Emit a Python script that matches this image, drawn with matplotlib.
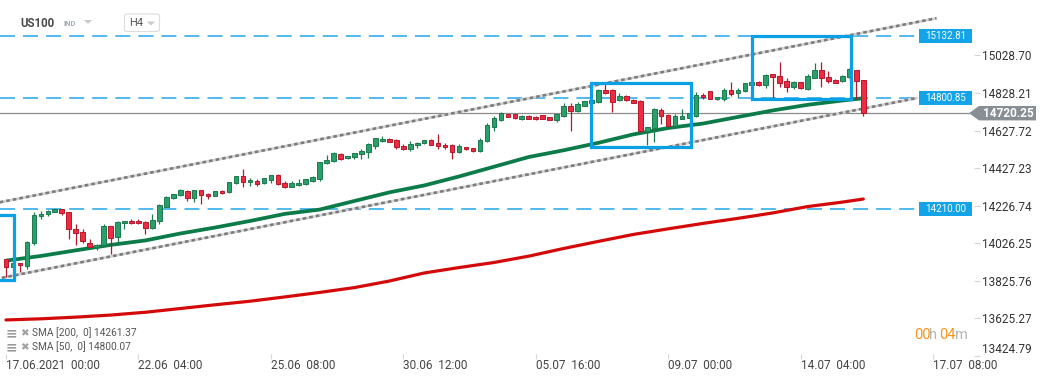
import matplotlib
matplotlib.use('Agg')
import matplotlib.pyplot as plt
from matplotlib.patches import Rectangle, Polygon, FancyBboxPatch
from matplotlib.transforms import blended_transform_factory
import numpy as np

plt.rcParams['font.family'] = ['Roboto', 'DejaVu Sans']
plt.rcParams['lines.scale_dashes'] = False

W, H = 1041, 380

# ---------------- data (US100, H4 candles) ----------------
opens = [13939, 13896, 13918, 13905, 14025, 14169, 14180, 14192, 14206, 14190,
         14099, 14083, 14028, 14007, 14016, 14115, 14057, 14131, 14144, 14144,
         14139, 14105, 14142, 14221, 14265, 14281, 14306, 14265, 14310, 14288,
         14278, 14303, 14297, 14345, 14383, 14351, 14356, 14345, 14365, 14388,
         14345, 14328, 14335, 14340, 14360, 14368, 14452, 14463, 14500, 14479,
         14488, 14500, 14515, 14547, 14570, 14581, 14577, 14545, 14531, 14548,
         14559, 14575, 14561, 14550, 14550, 14511, 14538, 14532, 14516, 14570,
         14648, 14684, 14714, 14714, 14691, 14705, 14700, 14709, 14698, 14684,
         14707, 14759, 14734, 14760, 14777, 14782, 14844, 14844, 14789, 14810,
         14793, 14784, 14623, 14639, 14737, 14711, 14652, 14691, 14694, 14707,
         14817, 14837, 14794, 14798, 14844, 14826, 14837, 14873, 14887, 14869,
         14930, 14919, 14892, 14862, 14885, 14850, 14910, 14951, 14914, 14898,
         14891, 14912, 14949, 14896]
highs = [13943, 13925, 13920, 14039, 14192, 14197, 14203, 14208, 14208, 14192,
         14128, 14099, 14046, 14019, 14126, 14118, 14144, 14146, 14153, 14153,
         14146, 14181, 14233, 14278, 14289, 14315, 14309, 14310, 14312, 14295,
         14304, 14308, 14354, 14386, 14422, 14376, 14367, 14374, 14392, 14395,
         14356, 14358, 14367, 14369, 14386, 14461, 14497, 14515, 14506, 14491,
         14509, 14527, 14563, 14588, 14598, 14586, 14581, 14554, 14570, 14568,
         14577, 14580, 14609, 14559, 14556, 14557, 14541, 14534, 14586, 14666,
         14704, 14726, 14717, 14717, 14708, 14710, 14703, 14712, 14700, 14718,
         14773, 14777, 14778, 14786, 14793, 14850, 14875, 14848, 14826, 14818,
         14795, 14791, 14648, 14746, 14750, 14716, 14714, 14741, 14722, 14832,
         14826, 14840, 14809, 14853, 14887, 14857, 14884, 14890, 14890, 14928,
         14931, 14992, 14907, 14892, 14888, 14930, 14990, 14992, 14946, 14905,
         14924, 14960, 14951, 14898]
lows = [13846, 13894, 13873, 13886, 14017, 14153, 14171, 14190, 14174, 14050,
        14014, 14025, 14003, 13989, 14010, 13966, 14028, 14099, 14130, 14128,
        14073, 14101, 14126, 14217, 14263, 14279, 14251, 14244, 14237, 14260,
        14276, 14290, 14295, 14340, 14328, 14333, 14331, 14343, 14349, 14335,
        14319, 14324, 14333, 14338, 14354, 14360, 14449, 14459, 14470, 14477,
        14474, 14474, 14479, 14531, 14566, 14566, 14531, 14525, 14520, 14532,
        14557, 14548, 14531, 14531, 14474, 14506, 14524, 14514, 14513, 14566,
        14627, 14681, 14699, 14690, 14682, 14689, 14685, 14689, 14683, 14675,
        14702, 14627, 14725, 14758, 14775, 14777, 14821, 14728, 14784, 14787,
        14774, 14620, 14550, 14568, 14664, 14652, 14648, 14687, 14692, 14702,
        14794, 14795, 14792, 14787, 14812, 14805, 14833, 14870, 14866, 14853,
        14803, 14862, 14835, 14848, 14851, 14844, 14907, 14862, 14880, 14880,
        14889, 14908, 14796, 14705]
closes = [13896, 13918, 13907, 14030, 14174, 14180, 14196, 14206, 14185, 14099,
          14078, 14039, 14007, 14014, 14115, 14055, 14139, 14144, 14131, 14131,
          14105, 14147, 14228, 14274, 14287, 14310, 14265, 14308, 14281, 14276,
          14303, 14292, 14351, 14383, 14350, 14363, 14344, 14372, 14388, 14340,
          14328, 14345, 14345, 14367, 14377, 14458, 14470, 14506, 14477, 14490,
          14506, 14518, 14556, 14586, 14581, 14568, 14538, 14531, 14554, 14563,
          14575, 14552, 14543, 14538, 14511, 14545, 14527, 14516, 14575, 14657,
          14693, 14723, 14702, 14693, 14705, 14691, 14687, 14691, 14686, 14716,
          14759, 14734, 14769, 14784, 14791, 14844, 14830, 14782, 14810, 14789,
          14777, 14623, 14645, 14741, 14707, 14654, 14705, 14705, 14719, 14817,
          14805, 14798, 14807, 14843, 14825, 14844, 14880, 14887, 14869, 14924,
          14912, 14884, 14862, 14887, 14853, 14919, 14951, 14907, 14892, 14884,
          14919, 14955, 14891, 14720.25]

sma_idx = [0, 5, 10, 15, 20, 25, 30, 35, 40, 45, 50, 55, 60, 65, 70, 75, 80,
           85, 90, 95, 100, 105, 110, 115, 120, 123]
sma50 = [13932, 13957, 13987, 14016, 14040, 14077, 14109, 14144, 14182, 14205,
         14251, 14297, 14334, 14382, 14434, 14486, 14522, 14562, 14607, 14641,
         14665, 14700, 14735, 14765, 14788, 14800.07]
sma200 = [13615, 13621, 13630, 13641, 13656, 13676, 13696, 13715, 13738, 13762,
          13788, 13823, 13866, 13895, 13922, 13956, 13997, 14035, 14072, 14102,
          14131, 14158, 14187, 14221, 14245, 14261.37]

channel_upper_x = [-0.9, 133.5]
channel_upper_y = [14244, 15228]
channel_lower_x = [-0.6, 130.8]
channel_lower_y = [13840, 14802]

levels = [15132.81, 14800.85, 14210.00]
level_labels = ['15132.81', '14800.85', '14210.00']
last_price = 14720.25

# drawn zones: (x0, x1, y0, y1)
zones = [(-5.0, 1.15, 13828, 14176),
         (84.0, 98.3, 14541, 14883),
         (107.1, 121.3, 14795, 15133)]

ytick_vals = [13424.79, 13625.27, 13825.76, 14026.25, 14226.74,
              14427.23, 14627.72, 14828.21, 15028.70]
xtick_idx = [0, 19, 38, 57, 76, 95, 114, 133]
xtick_labels = ['17.06.2021  00:00', '22.06  04:00', '25.06  08:00',
                '30.06  12:00', '05.07  16:00', '09.07  00:00',
                '14.07  04:00', '17.07  08:00']

sma_legend = ['SMA [200,  0] 14261.37', 'SMA [50,  0] 14800.07']

# ---------------- figure ----------------
GREEN = '#2a9f6a'
GREEN_EDGE = '#1c7a4f'
RED = '#ee2b40'
RED_EDGE = '#b5182b'
BLUE = '#0aa0e6'

fig = plt.figure(figsize=(W / 100, H / 100), dpi=100)
fig.patch.set_facecolor('white')
ax = fig.add_axes([0, 24 / H, 974 / W, 356 / H])
ax.set_facecolor('white')
ax.set_xlim(-0.86, 138.88)
ax.set_ylim(13422.2, 15325.4)
for s in ax.spines.values():
    s.set_visible(False)

PX = (15325.4 - 13422.2) / 356.0  # price per pixel

# horizontal levels
for lv in levels:
    ax.axhline(lv, xmin=0, xmax=915 / 974, color='#22a7ea', lw=1.1,
               dashes=(10.8, 5.8), zorder=1.5)

# current price line
ax.axhline(last_price, xmin=0, xmax=969 / 974, color='#8c8c8c', lw=0.9, zorder=1.4)

# channel
for xs, ys in [(channel_upper_x, channel_upper_y), (channel_lower_x, channel_lower_y)]:
    ax.plot(xs, ys, color='#d2d2d2', lw=1.9, solid_capstyle='butt', zorder=2)
    ax.plot(xs, ys, color='#7c7c7c', lw=1.9, dashes=(2.6, 2.2), zorder=2.1)

# SMAs
ax.plot(sma_idx, sma200, color='#d40a0a', lw=2.3, zorder=3, solid_capstyle='round')
ax.plot(sma_idx, sma50, color='#0b7b4a', lw=2.7, zorder=3, solid_capstyle='round')

# candles
o = np.array(opens, float)
c = np.array(closes, float)
hi = np.array(highs, float)
lo = np.array(lows, float)
idx = np.arange(len(o))
up = c >= o
bottoms = np.minimum(o, c)
heights = np.maximum(np.abs(c - o), 4.0)
ax.vlines(idx[up], lo[up], hi[up], color=GREEN_EDGE, lw=0.9, zorder=4)
ax.vlines(idx[~up], lo[~up], hi[~up], color=RED_EDGE, lw=0.9, zorder=4)
ax.bar(idx[up], heights[up], bottom=bottoms[up], width=0.66, color=GREEN,
       edgecolor=GREEN_EDGE, linewidth=0.7, zorder=5)
ax.bar(idx[~up], heights[~up], bottom=bottoms[~up], width=0.66, color=RED,
       edgecolor=RED_EDGE, linewidth=0.7, zorder=5)

# zones
for x0, x1, y0, y1 in zones:
    ax.add_patch(Rectangle((x0, y0), x1 - x0, y1 - y0, fill=False,
                           edgecolor=BLUE, lw=2.3, zorder=7))

# level labels
tr = blended_transform_factory(ax.transAxes, ax.transData)
for lv, lab in zip(levels, level_labels):
    ax.add_patch(Rectangle((919 / 974, lv - 7 * PX), 53 / 974, 14 * PX,
                           transform=tr, facecolor='#12a3e8', edgecolor='none',
                           zorder=8, clip_on=False))
    ax.text(945.5 / 974, lv, lab, transform=tr, ha='center', va='center',
            color='white', fontsize=7, zorder=9)

# last price label
trf = blended_transform_factory(fig.transFigure, ax.transData)
hh = 7.2 * PX
pts = [(969 / W, last_price), (979 / W, last_price + hh), (1036 / W, last_price + hh),
       (1036 / W, last_price - hh), (979 / W, last_price - hh)]
ax.add_patch(Polygon(pts, closed=True, transform=trf, facecolor='#878e94',
                     edgecolor='none', clip_on=False, zorder=9))
ax.text((980 + 1036) / 2 / W, last_price, f'{last_price:.2f}', transform=trf,
        ha='center', va='center', color='white', fontsize=8.5,
        fontweight='bold', zorder=10)

# axes ticks
ax.yaxis.tick_right()
ax.set_yticks(ytick_vals)
ax.set_yticklabels([f'{v:.2f}' for v in ytick_vals])
ax.tick_params(axis='y', direction='out', length=4.3, width=0.8, color='#d6d6d6',
               pad=1.2, labelsize=8.5, labelcolor='#333333')
ylabs = ax.get_yticklabels()
ylabs[0].set_va('bottom')
ax.set_xticks(xtick_idx)
ax.set_xticklabels(xtick_labels, ha='left')
ax.tick_params(axis='x', direction='inout', length=3.6, width=0.8, color='#d6d6d6',
               pad=0.5, labelsize=8.5, labelcolor='#444444')

# ---------------- header ----------------
def fx(x):
    return x / W

def fy(y):
    return 1 - y / H

fig.text(fx(20), fy(23.5), 'US100', ha='left', va='center', fontsize=8.3,
         fontweight='bold', color='#4a4a4a')
fig.text(fx(63), fy(24), 'IND', ha='left', va='center', fontsize=5.5,
         fontweight='bold', color='#a3abb3')
fig.patches.append(Polygon([(fx(84), fy(20)), (fx(92), fy(20)), (fx(88), fy(24))],
                           closed=True, transform=fig.transFigure,
                           facecolor='#c9c9c9', edgecolor='none'))
fig.patches.append(FancyBboxPatch((fx(124.5), fy(31.5)), fx(35), 17.5 / H,
                                  boxstyle='round,pad=0,rounding_size=0.004',
                                  transform=fig.transFigure, facecolor='white',
                                  edgecolor='#dcdcdc', lw=0.8))
fig.text(fx(129.5), fy(23.5), 'H4', ha='left', va='center', fontsize=8,
         color='#555555')
fig.patches.append(Polygon([(fx(147), fy(21.5)), (fx(155), fy(21.5)), (fx(151), fy(25.5))],
                           closed=True, transform=fig.transFigure,
                           facecolor='#c9c9c9', edgecolor='none'))

# ---------------- SMA legend ----------------
for i, lab in enumerate(sma_legend):
    yy = 333 + 14 * i
    fig.text(fx(5.5), fy(yy), '≡', ha='left', va='center', fontsize=10,
             color='#9a9a9a', family=['DejaVu Sans'], fontweight='bold')
    fig.text(fx(20), fy(yy), '✖', ha='left', va='center', fontsize=7.5,
             color='#a0a0a0', family=['DejaVu Sans'])
    fig.text(fx(32), fy(yy), lab, ha='left', va='center', fontsize=7.3,
             color='#555555')

# ---------------- countdown ----------------
ORANGE = '#f7941d'
fig.text(fx(914), fy(335), '00', ha='left', va='center', fontsize=10.5, color=ORANGE)
fig.text(fx(929), fy(335), 'h', ha='left', va='center', fontsize=10.5, color='#b5b5b5')
fig.text(fx(939.5), fy(335), '04', ha='left', va='center', fontsize=10.5, color=ORANGE)
fig.text(fx(955), fy(335), 'm', ha='left', va='center', fontsize=10.5, color='#b5b5b5')

fig.savefig('out.png', dpi=100, facecolor='white')
